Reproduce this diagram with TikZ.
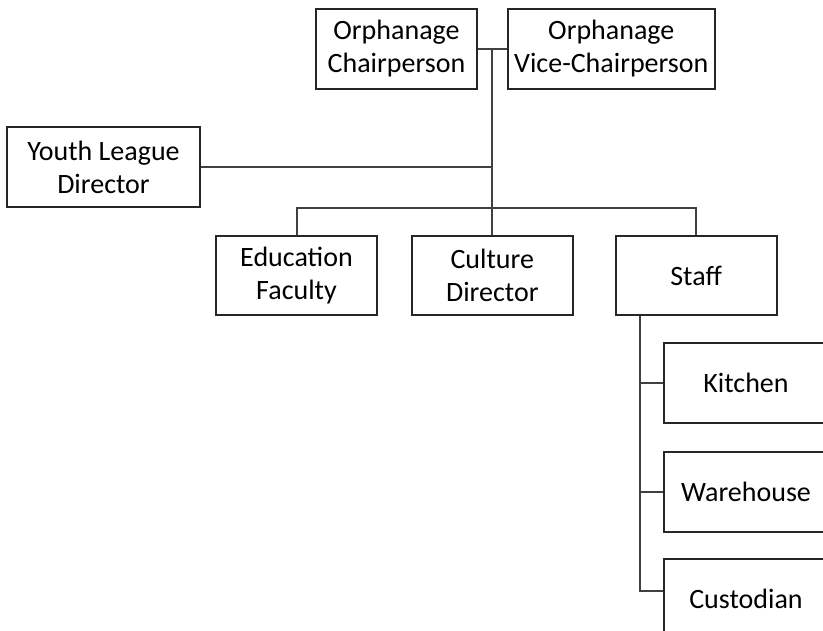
\documentclass[tikz,border=0pt]{standalone}
\usepackage{fontspec}
\setmainfont{Carlito}
\usetikzlibrary{positioning,calc}

\begin{document}
\begin{tikzpicture}[
    x=1pt, y=-1pt,
    node distance=29pt,
    box/.style={
        draw=black!85,
        line width=1.8pt,
        align=center,
        inner sep=0pt,
        font=\fontsize{28}{33}\selectfont,
        minimum width=161pt,
        minimum height=80pt
    },
    line/.style={line width=2pt, draw=black!75}
]
\clip (0,0) rectangle (823,631);

\node[box] (chair) at (396.5,49) {Orphanage\\Chairperson};
\node[box, right=29pt of chair, minimum width=207pt] (vice) {Orphanage\\Vice-Chairperson};
\node[box, minimum width=193pt] (youth) at (103.5,167) {Youth League\\Director};

\node[box, minimum height=79pt] (edu) at (296.5,275.5) {Education\\Faculty};
\node[box, minimum height=79pt, right=33pt of edu] (culture) {Culture\\Director};
\node[box, minimum height=79pt, right=41pt of culture] (staff) {Staff};

\node[box, minimum width=164pt] (kitchen) at (746,383) {Kitchen};
\node[box, minimum width=164pt, below=27pt of kitchen] (warehouse) {Warehouse};
\node[box, minimum width=164pt, below=25pt of warehouse] (custodian) {Custodian};

\coordinate (top) at ($(chair.east)!0.5!(vice.west)$);
\coordinate (bus) at (491,208);
\coordinate (spine) at ([xshift=25pt]staff.south west);

\draw[line] (chair) -- (vice);
\draw[line] (top) -- (top |- culture.north);
\draw[line] (youth) -- (youth -| top);
\draw[line] (edu) |- (bus) -| (staff);

\draw[line] (spine) |- ([yshift=8pt]custodian.west);
\draw[line] (spine |- kitchen) -- (kitchen);
\draw[line] (spine |- warehouse) -- (warehouse);

\end{tikzpicture}
\end{document}
